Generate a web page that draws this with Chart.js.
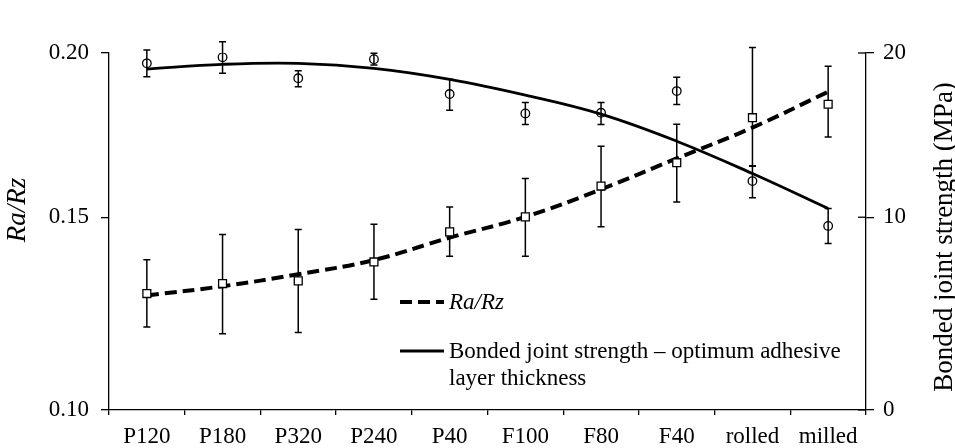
<!DOCTYPE html>
<html>
<head>
<meta charset="utf-8">
<script src="https://cdn.jsdelivr.net/npm/chart.js@4.4.1/dist/chart.umd.min.js"></script>
<style>
  html, body { margin: 0; padding: 0; background: #fff; }
  canvas { display: block; }
</style>
</head>
<body>
<canvas id="chart" width="955" height="448"></canvas>
<script>
// DATA
const categories = ["P120", "P180", "P320", "P240", "P40", "F100", "F80", "F40", "rolled", "milled"];

const raRz     = [0.1302, 0.1328, 0.1335, 0.1384, 0.1462, 0.1501, 0.1595, 0.1666, 0.1803, 0.1844];
const raRzLow  = [0.1215, 0.1198, 0.1201, 0.1287, 0.1399, 0.1399, 0.1475, 0.1546, 0.1655, 0.1744];
const raRzHigh = [0.1390, 0.1455, 0.1468, 0.1482, 0.1531, 0.1618, 0.1716, 0.1783, 0.2017, 0.1960];
const raRzFit  = [0.1297, 0.1321, 0.1352, 0.1389, 0.1447, 0.1501, 0.1585, 0.1679, 0.1773, 0.1882];

const strength     = [19.37, 19.74, 18.46, 19.62, 17.50, 16.32, 16.36, 17.68, 12.20, 9.55];
const strengthLow  = [18.55, 18.76, 17.95, 19.27, 16.52, 15.65, 15.65, 16.87, 11.18, 8.64];
const strengthHigh = [20.18, 20.69, 18.92, 19.98, 18.40, 16.98, 16.98, 18.52, 13.13, 10.53];
const strengthFit  = [19.02, 19.31, 19.37, 19.07, 18.40, 17.44, 16.28, 14.63, 12.66, 10.53];

const leftTicks = [0.10, 0.15, 0.20];
const rightTicks = [0, 10, 20];

const FONT = '"Liberation Serif", "Times New Roman", serif';

// ECHELLE AVEC LE MILIEU DEPLACE (le tick du milieu n'est pas au centre)
class SplitScale extends Chart.LinearScale {
  _dec(v) {
    const mid = this.options.mid;
    const f = this.options.midFraction;
    if (v <= mid) return (v - this.min) / (mid - this.min) * f;
    return f + (v - mid) / (this.max - mid) * (1 - f);
  }
  getPixelForValue(value) {
    if (value === null || value === undefined || isNaN(value)) return NaN;
    return this.getPixelForDecimal(this._dec(value));
  }
  getValueForPixel(pixel) {
    const d = this.getDecimalForPixel(pixel);
    const mid = this.options.mid;
    const f = this.options.midFraction;
    if (d <= f) return this.min + d / f * (mid - this.min);
    return mid + (d - f) / (1 - f) * (this.max - mid);
  }
}
SplitScale.id = "split";
SplitScale.defaults = Chart.LinearScale.defaults;
Chart.register(SplitScale);

// BARRES D'ERREUR + TICKS CROISES + TITRES + LEGENDE
const extras = {
  id: "extras",
  beforeDatasetsDraw(chart) {
    const ctx = chart.ctx;
    const x = chart.scales.x;
    ctx.save();
    ctx.strokeStyle = "#000";
    ctx.lineWidth = 1.5;
    const bars = [
      [chart.scales.y, raRzLow, raRzHigh],
      [chart.scales.y1, strengthLow, strengthHigh],
    ];
    bars.forEach(([scale, low, high]) => {
      for (let i = 0; i < categories.length; i++) {
        const px = x.getPixelForValue(i);
        const yl = scale.getPixelForValue(low[i]);
        const yh = scale.getPixelForValue(high[i]);
        ctx.beginPath();
        ctx.moveTo(px, yl); ctx.lineTo(px, yh);
        ctx.moveTo(px - 3.5, yl); ctx.lineTo(px + 3.5, yl);
        ctx.moveTo(px - 3.5, yh); ctx.lineTo(px + 3.5, yh);
        ctx.stroke();
      }
    });
    ctx.restore();
  },
  afterDraw(chart) {
    const ctx = chart.ctx;
    const y1 = chart.scales.y1;
    ctx.save();
    ctx.strokeStyle = "#000";
    ctx.lineWidth = 1.3;
    rightTicks.forEach((t) => {
      const py = y1.getPixelForValue(t);
      ctx.beginPath();
      ctx.moveTo(y1.left - 8, py);
      ctx.lineTo(y1.left, py);
      ctx.stroke();
    });

    // titres des axes
    ctx.fillStyle = "#000";
    ctx.textAlign = "center";
    ctx.textBaseline = "middle";
    ctx.save();
    ctx.translate(18, 210);
    ctx.rotate(-Math.PI / 2);
    ctx.font = "italic 27px " + FONT;
    ctx.fillText("Ra/Rz", 0, 0);
    ctx.restore();
    ctx.save();
    ctx.translate(945, 237);
    ctx.rotate(-Math.PI / 2);
    ctx.font = "27px " + FONT;
    ctx.fillText("Bonded joint strength (MPa)", 0, 0);
    ctx.restore();

    // legende
    ctx.lineWidth = 4;
    ctx.setLineDash([12, 6]);
    ctx.beginPath();
    ctx.moveTo(400, 302); ctx.lineTo(444, 302);
    ctx.stroke();
    ctx.setLineDash([]);
    ctx.lineWidth = 2.8;
    ctx.beginPath();
    ctx.moveTo(400, 351); ctx.lineTo(444, 351);
    ctx.stroke();

    ctx.textAlign = "left";
    ctx.font = "italic 23px " + FONT;
    ctx.fillText("Ra/Rz", 449, 303);
    ctx.font = "23px " + FONT;
    ctx.fillText("Bonded joint strength \u2013 optimum adhesive", 449, 352);
    ctx.fillText("layer thickness", 449, 379);
    ctx.restore();
  },
};

const ctx = document.getElementById("chart");

new Chart(ctx, {
  type: "line",
  data: {
    labels: categories,
    datasets: [
      {
        label: "Ra/Rz",
        data: raRz,
        yAxisID: "y",
        showLine: false,
        pointStyle: "rect",
        pointRadius: 5.6,
        pointBackgroundColor: "#fff",
        pointBorderColor: "#000",
        pointBorderWidth: 1.3,
        order: 1,
      },
      {
        label: "Bonded joint strength",
        data: strength,
        yAxisID: "y1",
        showLine: false,
        pointStyle: "circle",
        pointRadius: 4.3,
        pointBackgroundColor: "rgba(0,0,0,0)",
        pointBorderColor: "#000",
        pointBorderWidth: 1.3,
        order: 2,
      },
      {
        label: "Ra/Rz fit",
        data: raRzFit,
        yAxisID: "y",
        borderColor: "#000",
        borderWidth: 4,
        borderDash: [12, 6],
        pointRadius: 0,
        tension: 0.4,
        fill: false,
        order: 3,
      },
      {
        label: "Bonded joint strength \u2013 optimum adhesive layer thickness",
        data: strengthFit,
        yAxisID: "y1",
        borderColor: "#000",
        borderWidth: 2.8,
        pointRadius: 0,
        tension: 0.4,
        fill: false,
        order: 4,
      },
    ],
  },
  options: {
    responsive: false,
    animation: false,
    devicePixelRatio: 1,
    layout: { padding: { top: 53, left: 0, right: 0, bottom: 0 } },
    plugins: {
      legend: { display: false },
      tooltip: { enabled: false },
    },
    scales: {
      x: {
        type: "category",
        offset: true,
        grid: { offset: true, drawOnChartArea: false, tickLength: 5, color: "#000", lineWidth: 1.3 },
        border: { color: "#000", width: 1.3 },
        ticks: { color: "#000", font: { family: FONT, size: 23 }, padding: 8, maxRotation: 0, autoSkip: false },
        afterFit: (s) => { s.height = 38; },
      },
      y: {
        type: "split",
        position: "left",
        min: leftTicks[0],
        max: leftTicks[2],
        mid: leftTicks[1],
        midFraction: 0.54,
        afterBuildTicks: (s) => { s.ticks = leftTicks.map((v) => ({ value: v })); },
        grid: { drawOnChartArea: false, tickLength: 8, color: "#000", lineWidth: 1.3 },
        border: { color: "#000", width: 1.3 },
        ticks: {
          color: "#000",
          font: { family: FONT, size: 23 },
          padding: 12,
          callback: (v) => v.toFixed(2),
        },
        afterFit: (s) => { s.width = 109; },
      },
      y1: {
        type: "split",
        position: "right",
        min: rightTicks[0],
        max: rightTicks[2],
        mid: rightTicks[1],
        midFraction: 0.54,
        afterBuildTicks: (s) => { s.ticks = rightTicks.map((v) => ({ value: v })); },
        grid: { drawOnChartArea: false, tickLength: 8, color: "#000", lineWidth: 1.3 },
        border: { color: "#000", width: 1.3 },
        ticks: {
          color: "#000",
          font: { family: FONT, size: 23 },
          padding: 9,
          callback: (v) => String(v),
        },
        afterFit: (s) => { s.width = 89; },
      },
    },
  },
  plugins: [extras],
});
</script>
</body>
</html>
